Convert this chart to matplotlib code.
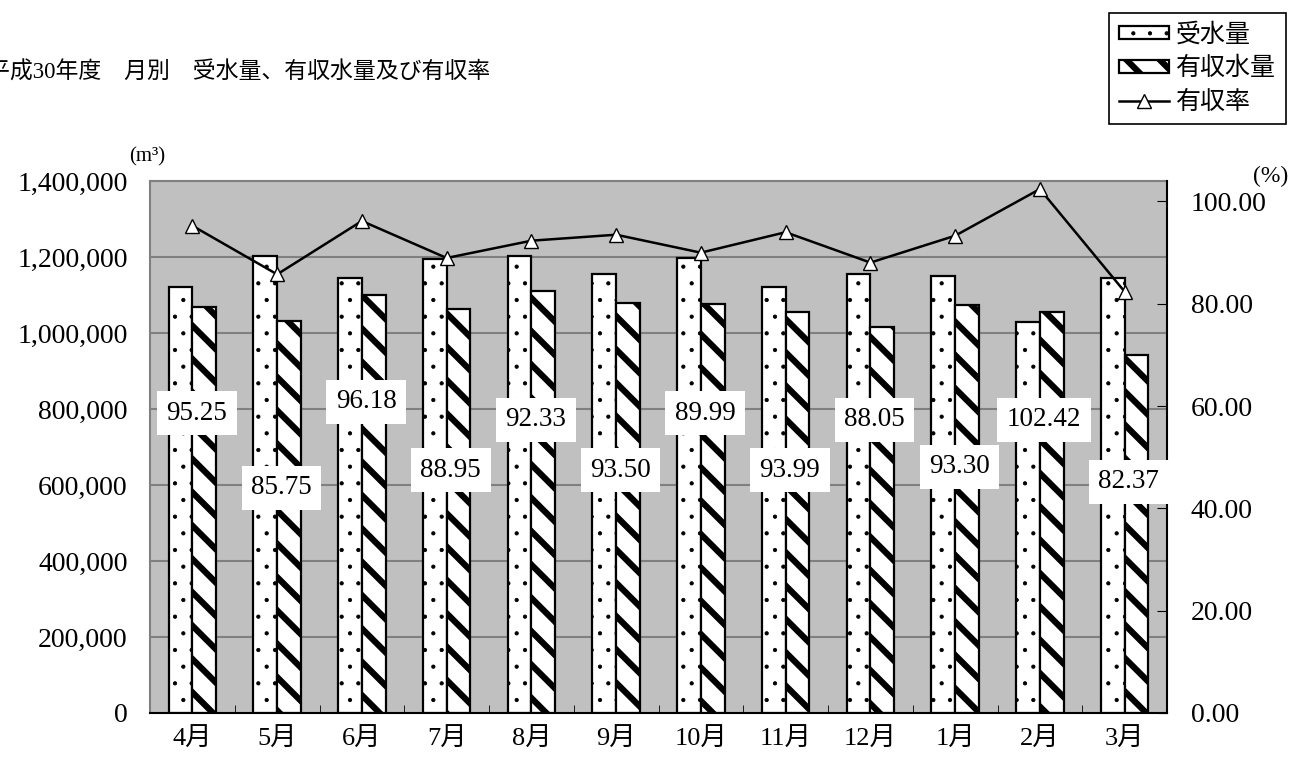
import numpy as np
import matplotlib.pyplot as plt
from matplotlib.ticker import FuncFormatter

plt.rcParams['font.family'] = ['Liberation Serif', 'Noto Sans CJK JP']
STRIPE_LW = 4.5
DOT_LW = 0.6
plt.rcParams['hatch.linewidth'] = STRIPE_LW

# data
months = ['4月', '5月', '6月', '7月', '8月', '9月', '10月', '11月', '12月', '1月', '2月', '3月']
received = [1121000, 1203000, 1145000, 1195000, 1203000, 1155000,
            1197000, 1121000, 1155000, 1150000, 1029000, 1145000]
billed = [1068000, 1032000, 1101000, 1063000, 1111000, 1080000,
          1077000, 1054000, 1017000, 1073000, 1054000, 943000]
rate = [95.25, 85.75, 96.18, 88.95, 92.33, 93.50, 89.99, 93.99, 88.05, 93.30, 102.42, 82.37]
# where the rate labels sit (right axis units)
label_y = [58.6, 44.0, 60.8, 47.5, 57.3, 47.5, 58.6, 47.5, 57.3, 48.1, 57.3, 45.2]

W, H = 1295, 758
fig = plt.figure(figsize=(W / 100, H / 100), dpi=100)
ax = fig.add_axes([150 / W, 1 - 713 / H, (1167 - 150) / W, (713 - 181) / H])
ax.set_facecolor('#C0C0C0')

x = np.arange(len(months))
w = 0.28
# thin hatch lines for the dots, thick ones for the stripes
with plt.rc_context({'hatch.linewidth': DOT_LW}):
    b1 = ax.bar(x - w / 2, received, w, facecolor='white', edgecolor='black',
                linewidth=1.6, hatch='.', label='受水量')
b2 = ax.bar(x + w / 2, billed, w, facecolor='white', edgecolor='black',
            linewidth=1.6, hatch='\\', label='有収水量')

ax.set_xlim(-0.5, len(months) - 0.5)
ax.set_ylim(0, 1400000)
ax.set_yticks(range(0, 1400001, 200000))
ax.yaxis.set_major_formatter(FuncFormatter(lambda v, p: f'{int(v):,}'))
ax.grid(axis='y', color='#808080', linewidth=1.5)
ax.set_axisbelow(True)
ax.tick_params(axis='y', length=0, pad=16, labelsize=20)
ax.set_xticks(x)
ax.set_xticklabels(months)
ax.tick_params(axis='x', which='major', length=0, pad=11, labelsize=19)
ax.set_xticks(np.arange(-0.5, len(months), 1), minor=True)
ax.tick_params(axis='x', which='minor', direction='in', length=6, color='black')
for s in ['left', 'top']:
    ax.spines[s].set_color('#808080')
    ax.spines[s].set_linewidth(1.5)
ax.spines['right'].set_visible(False)
ax.spines['bottom'].set_color('black')
ax.spines['bottom'].set_linewidth(1.5)

# rate line on the right axis
ax2 = ax.twinx()
ln, = ax2.plot(x, rate, color='black', linewidth=1.8, marker='^', markersize=10,
               markerfacecolor='white', markeredgecolor='black', markeredgewidth=1,
               label='有収率')
ax2.set_ylim(0, 104)
ax2.set_yticks(range(0, 101, 20))
ax2.yaxis.set_major_formatter(FuncFormatter(lambda v, p: f'{v:.2f}'))
ax2.tick_params(axis='y', direction='in', length=7, pad=17, labelsize=20)
for s in ['left', 'top', 'bottom']:
    ax2.spines[s].set_visible(False)
ax2.spines['right'].set_color('black')
ax2.spines['right'].set_linewidth(1.5)

for i in range(len(months)):
    ax2.text(x[i] + 0.05, label_y[i], f'{rate[i]:.2f}', ha='center', va='center',
             fontsize=19.5,
             bbox=dict(boxstyle='square,pad=0.35', facecolor='white', edgecolor='none'))

fig.text(-13 / W, 1 - 73 / H, '平成30年度\u3000月別\u3000受水量、有収水量及び有収率',
         fontsize=16.5, ha='left', va='center')
fig.text(147 / W, 1 - 157 / H, '(m³)', fontsize=15, ha='center', va='center')
fig.text(1271 / W, 1 - 176 / H, '(%)', fontsize=17, ha='center', va='center')

with plt.rc_context({'hatch.linewidth': DOT_LW}):
    leg = fig.legend(handles=[b1, b2, ln], loc='upper right',
                     bbox_to_anchor=(1286 / W, 1 - 13 / H), fontsize=18,
                     frameon=True, fancybox=False, framealpha=1, edgecolor='black',
                     handlelength=2.0, handleheight=0.4, handletextpad=0.3,
                     labelspacing=0.42, borderpad=0.4, borderaxespad=0)
leg.get_frame().set_linewidth(1.2)
# stripes in the legend need the thick hatch too
stripe_handle = leg.get_patches()[1]
if hasattr(stripe_handle, 'set_hatch_linewidth'):
    stripe_handle.set_hatch_linewidth(STRIPE_LW)
else:
    stripe_handle._hatch_linewidth = STRIPE_LW

fig.savefig('out.png', dpi=100)
